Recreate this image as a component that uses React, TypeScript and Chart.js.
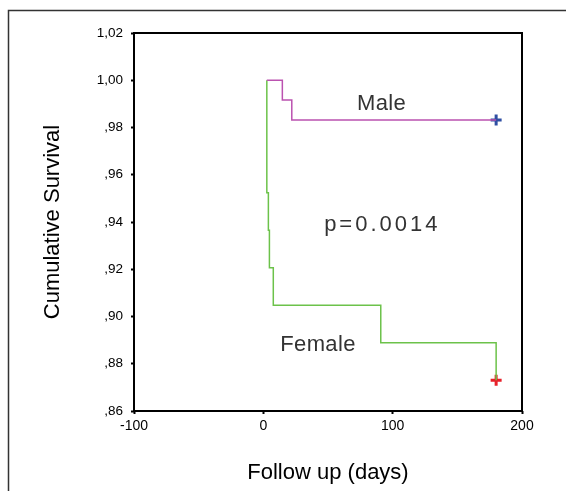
import React, { useEffect, useRef } from "react";
import { Chart, registerables } from "chart.js";

Chart.register(...registerables);

// Kaplan-Meier step data (time in days, cumulative survival)
const maleTimes = [2.7, 14.7, 22, 180];
const maleSurvival = [1.0, 0.9916, 0.9832, 0.9832];
const femaleTimes = [2.7, 2.7, 3.9, 4.7, 7.7, 90.8, 180];
const femaleSurvival = [1.0, 0.9524, 0.9365, 0.9206, 0.9048, 0.8889, 0.873];

// Censored observations
const maleCensorTimes = [180];
const maleCensorSurvival = [0.9832];
const femaleCensorTimes = [180];
const femaleCensorSurvival = [0.873];

// Axis ticks
const xTicks = [-100, 0, 100, 200];
const yTicks = [0.86, 0.88, 0.9, 0.92, 0.94, 0.96, 0.98, 1.0, 1.02];

// Text annotations inside the plot
const annotationTexts = ["Male", "p=0.0014", "Female"];
const annotationX = [91.4, 92, 42.3];
const annotationY = [0.99, 0.9387, 0.888];
const annotationSpacing = [0.3, 3, 0.4];

const FONT = '"Liberation Sans", Arial, Helvetica, sans-serif';

function fmtY(v: number): string {
  return v.toFixed(2).replace(".", ",").replace(/^0/, "");
}

const zip = (xs: number[], ys: number[]) => xs.map((x, i) => ({ x, y: ys[i] }));

export default function App() {
  const ref = useRef<HTMLCanvasElement | null>(null);

  useEffect(() => {
    if (!ref.current) return;

    const framePlugin = {
      id: "frame",
      beforeDraw(chart: any) {
        const ctx = chart.ctx;
        ctx.save();
        ctx.fillStyle = "#ffffff";
        ctx.fillRect(0, 0, chart.width, chart.height);
        ctx.strokeStyle = "#333333";
        ctx.lineWidth = 1.5;
        ctx.strokeRect(8.5, 10.5, 800, 800);
        ctx.restore();
      },
      afterDatasetsDraw(chart: any) {
        const ctx = chart.ctx;
        const a = chart.chartArea;
        ctx.save();
        ctx.strokeStyle = "#000000";
        ctx.lineWidth = 2;
        ctx.strokeRect(a.left, a.top, a.right - a.left, a.bottom - a.top);
        const xs = chart.scales.x;
        const ys = chart.scales.y;
        ctx.fillStyle = "#333333";
        ctx.font = `22px ${FONT}`;
        ctx.textAlign = "center";
        ctx.textBaseline = "middle";
        annotationTexts.forEach((t, i) => {
          (ctx as any).letterSpacing = `${annotationSpacing[i]}px`;
          ctx.fillText(t, xs.getPixelForValue(annotationX[i]), ys.getPixelForValue(annotationY[i]));
        });
        (ctx as any).letterSpacing = "0px";
        ctx.restore();
      },
    };

    const chart = new Chart(ref.current, {
      type: "line",
      data: {
        datasets: [
          {
            data: zip(maleTimes, maleSurvival),
            borderColor: "#bb52b0",
            borderWidth: 1.5,
            pointRadius: 0,
            stepped: true,
            fill: false,
          },
          {
            data: zip(femaleTimes, femaleSurvival),
            borderColor: "#6cc24a",
            borderWidth: 1.5,
            pointRadius: 0,
            stepped: true,
            fill: false,
          },
          {
            data: zip(maleCensorTimes, maleCensorSurvival),
            showLine: false,
            pointStyle: "cross",
            pointRadius: 5.5,
            borderWidth: 3,
            borderColor: "#2f4fa3",
          },
          {
            data: zip(femaleCensorTimes, femaleCensorSurvival),
            showLine: false,
            pointStyle: "cross",
            pointRadius: 5.5,
            borderWidth: 3,
            borderColor: "#e8202a",
          },
        ],
      },
      options: {
        responsive: false,
        maintainAspectRatio: false,
        animation: false,
        devicePixelRatio: 1,
        layout: { padding: { top: 33, right: 44, left: 0, bottom: 0 } },
        plugins: { legend: { display: false }, tooltip: { enabled: false } },
        scales: {
          x: {
            type: "linear",
            min: -100,
            max: 200,
            afterBuildTicks: (s: any) => {
              s.ticks = xTicks.map((v) => ({ value: v }));
            },
            afterFit: (s: any) => {
              s.height = 80;
            },
            grid: { drawOnChartArea: false, tickLength: 3, tickWidth: 2, color: "#000" },
            border: { display: false },
            ticks: { font: { family: FONT, size: 14 }, color: "#000", padding: 4, maxRotation: 0 },
            title: {
              display: true,
              text: "Follow up (days)",
              font: { family: FONT, size: 22 },
              color: "#000",
              padding: { top: 0, bottom: 5 },
            },
          },
          y: {
            type: "linear",
            min: 0.86,
            max: 1.02,
            afterBuildTicks: (s: any) => {
              s.ticks = yTicks.map((v) => ({ value: v }));
            },
            afterFit: (s: any) => {
              s.width = 134;
            },
            grid: { drawOnChartArea: false, tickLength: 3, tickWidth: 2, color: "#000" },
            border: { display: false },
            ticks: {
              font: { family: FONT, size: 13.5 },
              color: "#000",
              padding: 8,
              callback: (v: any) => fmtY(Number(v)),
            },
            title: {
              display: true,
              text: "Cumulative Survival",
              font: { family: FONT, size: 22 },
              color: "#000",
              padding: { top: 40, bottom: 0 },
            },
          },
        },
      },
      plugins: [framePlugin],
    } as any);

    return () => chart.destroy();
  }, []);

  return (
    <canvas
      ref={ref}
      width={566}
      height={491}
      style={{ position: "fixed", left: 0, top: 0, width: 566, height: 491, display: "block" }}
    />
  );
}
